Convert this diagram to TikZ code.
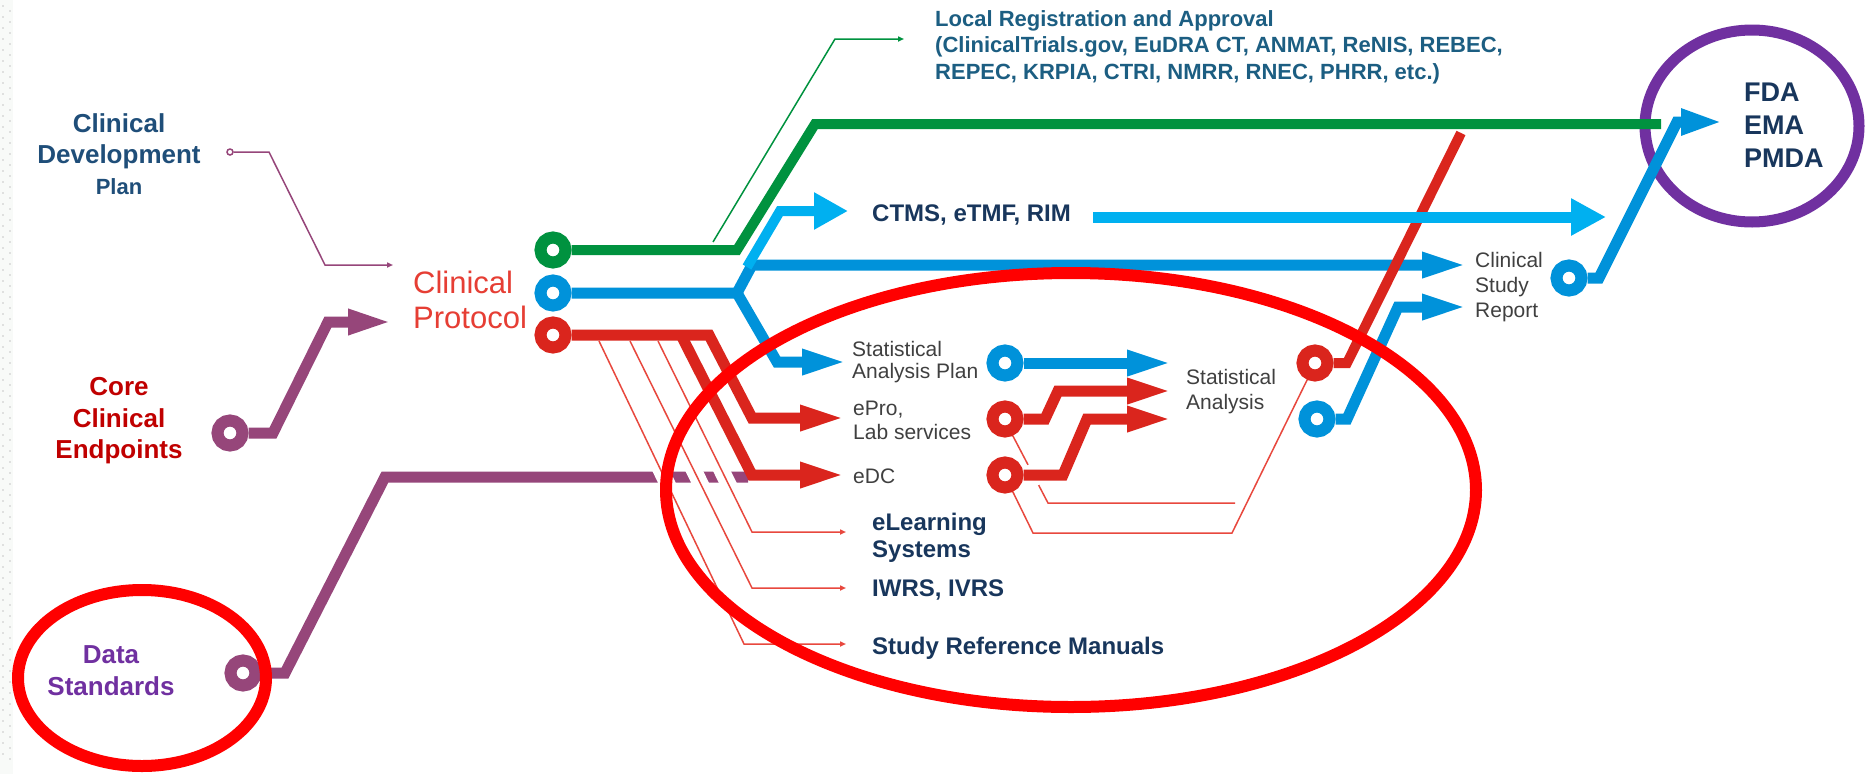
\documentclass[tikz,border=0pt]{standalone}
\usepackage{fontspec}
\setmainfont{Liberation Sans}
\usetikzlibrary{arrows.meta}
\definecolor{cgreen}{RGB}{0,146,63}
\definecolor{cblue}{RGB}{0,146,218}
\definecolor{clblue}{RGB}{0,176,240}
\definecolor{cred}{RGB}{218,37,29}
\definecolor{cthin}{RGB}{232,72,62}
\definecolor{cpurp}{RGB}{150,70,122}
\definecolor{cviolet}{RGB}{112,48,160}
\definecolor{cnavy}{RGB}{24,54,92}
\definecolor{cdpblue}{RGB}{31,78,121}
\definecolor{lrteal}{RGB}{28,94,130}
\definecolor{cdarkred}{RGB}{192,0,0}
\definecolor{cprot}{RGB}{230,62,52}
\definecolor{cgray}{RGB}{64,64,64}
\definecolor{cstrip}{RGB}{248,250,248}
\tikzset{
  ring/.style={circle, draw, fill=white, line width=12pt, minimum size=25pt, inner sep=0pt},
  txt/.style={inner sep=0pt, align=left, anchor=west},
  ctxt/.style={inner sep=0pt, align=center},
  thick line/.style={line width=11pt},
  thin line/.style={line width=1.5pt},
  bigtip/.style={-{Triangle[length=46pt,width=23pt]}},
  widetip/.style={-{Triangle[length=34pt,width=35pt]}},
  smalltip/.style={-{Triangle[length=6pt,width=5pt]}},
  halo/.style={white, line width=16pt}
}
\begin{document}
\begin{tikzpicture}[x=1pt,y=-1pt]
\useasboundingbox (0,0) rectangle (1872,774);
\fill[white] (0,0) rectangle (1872,774);
% left decorative strip
\fill[cstrip] (0,0) rectangle (13,774);
\foreach \i in {0,...,68} {
  \fill[gray!45] (3,{6+11*\i}) circle (0.9);
  \fill[gray!45] (10,{11+11*\i}) circle (0.9);
}

% ---------- text nodes ----------
\node[ctxt, text=cdpblue, font=\fontsize{26}{31}\selectfont\bfseries] (cdp) at (119,154)
  {Clinical\\Development\\{\fontsize{22}{31}\selectfont Plan}};
\node[ctxt, text=cdarkred, font=\fontsize{26}{31.5}\selectfont\bfseries] (cce) at (119,421)
  {Core\\Clinical\\Endpoints};
\node[ctxt, text=cviolet, font=\fontsize{26}{32}\selectfont\bfseries] (dst) at (111,671)
  {Data\\Standards};
\node[txt, text=cprot, font=\fontsize{31}{35}\selectfont] (prot) at (413,300)
  {Clinical\\Protocol};
\node[txt, text=lrteal, font=\fontsize{22}{26.5}\selectfont\bfseries] (lr) at (935,47)
  {Local Registration and Approval\\(ClinicalTrials.gov, EuDRA CT, ANMAT, ReNIS, REBEC,\\REPEC, KRPIA, CTRI, NMRR, RNEC, PHRR, etc.)};
\node[txt, text=cnavy, font=\fontsize{24}{28}\selectfont\bfseries] (ctms) at (872,215) {CTMS, eTMF, RIM};
\node[txt, text=cgray, font=\fontsize{21}{22.5}\selectfont] (sap) at (852,362) {Statistical\\Analysis Plan};
\node[txt, text=cgray, font=\fontsize{21}{24}\selectfont] (epro) at (853,420) {ePro,\\Lab services};
\node[txt, text=cgray, font=\fontsize{21}{24}\selectfont] (edc) at (853,476) {eDC};
\node[txt, text=cgray, font=\fontsize{21}{25}\selectfont] (sa) at (1186,392) {Statistical\\Analysis};
\node[txt, text=cgray, font=\fontsize{21}{25}\selectfont] (csr) at (1475,287) {Clinical\\Study\\Report};
\node[txt, text=cnavy, font=\fontsize{24}{27}\selectfont\bfseries] (elearn) at (872,538) {eLearning\\Systems};
\node[txt, text=cnavy, font=\fontsize{24}{27}\selectfont\bfseries] (iwrs) at (872,590) {IWRS, IVRS};
\node[txt, text=cnavy, font=\fontsize{24}{27}\selectfont\bfseries] (srm) at (872,648) {Study Reference Manuals};
\node[txt, text=cnavy, font=\fontsize{27}{33}\selectfont\bfseries] (fda) at (1744,125) {FDA\\EMA\\PMDA};

% ---------- rings ----------
\node[ring, draw=cgreen] (pg) at (553,250) {};
\node[ring, draw=cblue] (pb) at (553,293) {};
\node[ring, draw=cred] (pr) at (553,335) {};
\node[ring, draw=cpurp] (ce) at (230,433) {};
\node[ring, draw=cpurp] (ds) at (243,673) {};
\node[ring, draw=cblue] (sapc) at (1005,363) {};
\node[ring, draw=cred] (eproc) at (1005,419) {};
\node[ring, draw=cred] (edcc) at (1005,475) {};
\node[ring, draw=cred] (rc) at (1315,363) {};
\node[ring, draw=cblue] (bc) at (1317,419) {};
\node[ring, draw=cblue] (csrc) at (1569,278) {};
\node[circle, draw=cpurp, fill=white, line width=1.5pt, minimum size=6pt, inner sep=0pt] (cdps) at (230,152) {};

% free ends
\coordinate (lrs) at (713,242);
\coordinate (lre) at (904,39);
\coordinate (ctmsa) at (747,267);
\coordinate (ctmsb) at (1093,217);

% ---------- purple ellipse (behind the lines) ----------
\draw[cviolet, line width=11pt] (1752,126) ellipse [x radius=107, y radius=96];

% ---------- purple ----------
\draw[cpurp, thin line, smalltip] (cdps) -- (269,152) -- (325,265) -- ([xshift=-20pt]prot.west |- 0,265);
\draw[cpurp, thick line, -{Triangle[length=45pt,width=23pt]}] (ce) -- (273,433) -- (328,322) -- (393,322);
\draw[cpurp, thick line] (ds) -- (285,673) -- (385,477) -- (748,477);
% gaps where the thin red lines cross the purple line
\draw[halo] (657.4,463) -- (670.8,491);
\draw[halo] (690.3,463) -- (704.1,491);
\draw[halo] (718.0,463) -- (731.8,491);

% ---------- green ----------
\draw[cgreen, line width=10pt] (pg) -- (737,250) -- (815,124) -- (1661,124);
\draw[cgreen, thin line, smalltip] (lrs) -- (835,39) -- (lre);

% ---------- blue ----------
\draw[cblue, thick line, bigtip] (pb) -- (737,293) -- (752,265) -- (1468,265);
\draw[cblue, thick line, bigtip] (737,293) -- (777,362) -- (848,362);
\draw[clblue, line width=10pt, widetip] (ctmsa) -- (780,211) -- (848,211);
\draw[cblue, thick line, bigtip] (sapc) -- (1173,363);
\draw[cblue, thick line, bigtip] (bc) -- (1347,419) -- (1398,307) -- (1468,307);

% ---------- red ----------
\draw[cthin, thin line, smalltip] (599,341) -- (744,644) -- (846,644);
\draw[cthin, thin line, smalltip] (630,341) -- (752,588) -- (846,588);
\draw[cthin, thin line, smalltip] (658,341) -- (752,532) -- (846,532);
\draw[cthin, thin line] (eproc.295) -- (1048,503) -- (1235,503);
\draw[white, line width=4pt] (1027.9,465) -- (1038.5,485);
\draw[cthin, thin line] (edcc.295) -- (1033,533) -- (1232,533) -- (rc.245);
\draw[cred, thick line, bigtip] (681,335) -- (752,475) -- (846,475);
\draw[cred, thick line, bigtip] (pr) -- (709,335) -- (752,418) -- (846,418);
\draw[cred, thick line, bigtip] (eproc) -- (1045,419) -- (1058,391) -- (1173,391);
\draw[cred, thick line, bigtip] (edcc) -- (1063,475) -- (1087,419) -- (1173,419);
\draw[cred, line width=10pt] (rc) -- (1347,363) -- (1461,133);

% light blue long arrow (over the red diagonal)
\draw[clblue, thick line, -{Triangle[length=35pt,width=35pt]}] (ctmsb) -- (1606,217);

% blue to regulators (over the purple ellipse)
\draw[cblue, thick line, -{Triangle[length=42pt,width=24pt]}] (csrc) -- (1599,278) -- (1677,122) -- (1723,122);

% ---------- red ellipses ----------
\draw[red, line width=12pt] (1071,490) ellipse [x radius=405, y radius=217];
\draw[red, line width=12pt] (142,678) ellipse [x radius=124, y radius=88];
\end{tikzpicture}
\end{document}
